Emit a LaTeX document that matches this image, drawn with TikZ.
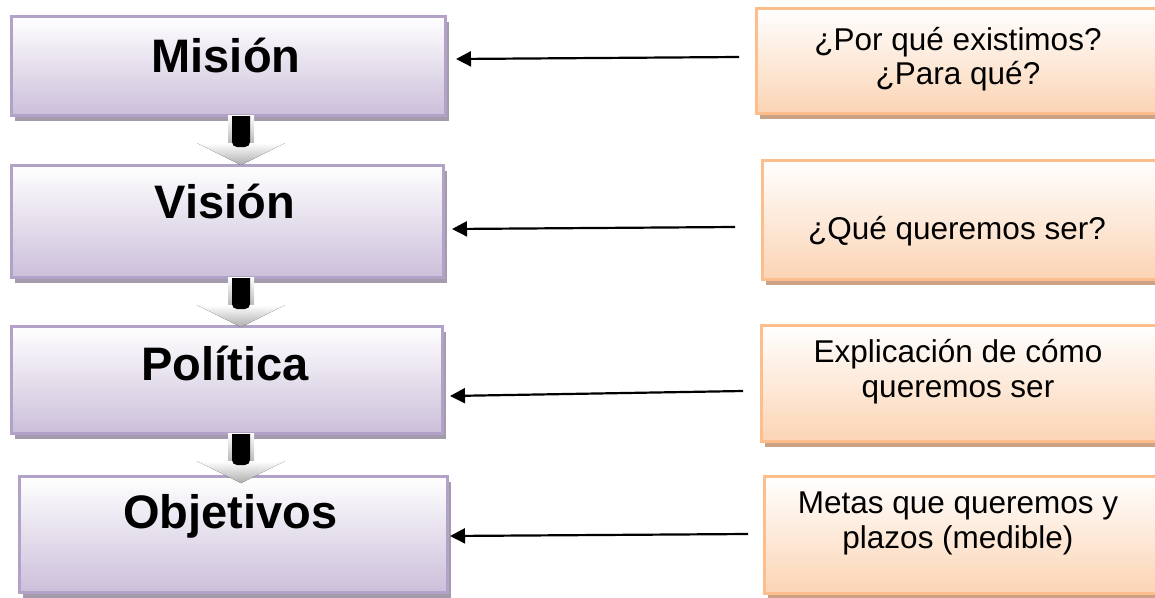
\documentclass[tikz,border=0pt]{standalone}
\usepackage{fontspec}
\setmainfont{Liberation Sans}
\usetikzlibrary{shadows,arrows.meta}
\definecolor{purpB}{HTML}{B3A2C7}
\definecolor{purpF}{HTML}{CBBFDA}
\definecolor{purpS}{HTML}{A49BAC}
\definecolor{orgB}{HTML}{FCBE8C}
\definecolor{orgF}{HTML}{FBD4B4}
\definecolor{orgS}{HTML}{CBA283}
\tikzset{
  lbox/.style={draw=purpB, line width=3pt, top color=white, bottom color=purpF,
    anchor=north west, inner sep=0pt,
    general shadow={shadow xshift=3.5pt, shadow yshift=-6pt, fill=purpS, draw=none}},
  rbox/.style={draw=orgB, line width=3pt, top color=white, bottom color=orgF,
    anchor=north west, inner sep=0pt,
    general shadow={shadow xshift=3.5pt, shadow yshift=-6pt, fill=orgS, draw=none}},
  ltext/.style={anchor=base, inner sep=0pt, font=\fontsize{47}{52}\selectfont\bfseries},
  rtext/.style={anchor=base, inner sep=0pt, font=\fontsize{31.5}{36}\selectfont},
  conn/.style={line width=2.2pt, -{Triangle[length=15pt,width=15pt]}},
  blockdown/.pic={
    \fill[top color=white, bottom color=black!28] (-13,0) rectangle (13,29);
    \fill[top color=white, bottom color=black!32] (-44,28) -- (44,28) -- (0,50) -- cycle;
    \fill[black] (-9,1) [rounded corners=5pt] -- (-9,32) -- (9,32) [sharp corners] -- (9,1) -- cycle;
  }
}
\begin{document}
\begin{tikzpicture}[x=1pt, y=-1pt]
\useasboundingbox (0,0) rectangle (1155,597);
\clip (0,0) rectangle (1155,597);
% left boxes
\node[lbox, minimum width=434pt, minimum height=99pt] (m) at (9.5,14.5) {};
\node[lbox, minimum width=432pt, minimum height=112pt] (v) at (9.5,163.5) {};
\node[lbox, minimum width=431pt, minimum height=107pt] (p) at (9.5,324.5) {};
\node[lbox, minimum width=428pt, minimum height=116pt] (o) at (17.5,474.5) {};
\node[ltext] (tm) at (226,72) {Misión};
\node[ltext] (tv) at (225,218) {Visión};
\node[ltext] (tp) at (225,380) {Política};
\node[ltext] (to) at (230.5,528) {Objetivos};
% right boxes
\node[rbox, minimum width=420pt, minimum height=105pt] (r1) at (754.5,6.5) {};
\node[rbox, minimum width=414pt, minimum height=119pt] (r2) at (760.5,158.5) {};
\node[rbox, minimum width=415pt, minimum height=116pt] (r3) at (759.5,323.5) {};
\node[rbox, minimum width=412pt, minimum height=117pt] (r4) at (762.5,474.5) {};
\node[rtext] (t1a) at (958,50) {¿Por qué existimos?};
\node[rtext] (t1b) at (958,84) {¿Para qué?};
\node[rtext] (t2) at (957,239) {¿Qué queremos ser?};
\node[rtext] (t3a) at (958,362) {Explicación de cómo};
\node[rtext] (t3b) at (958,397) {queremos ser};
\node[rtext] (t4a) at (958,513) {Metas que queremos y};
\node[rtext] (t4b) at (958,548) {plazos (medible)};
% down block arrows
\pic at (241,115) {blockdown};
\pic at (241,277) {blockdown};
\pic at (241,433) {blockdown};
% connectors
\coordinate (a1s) at (739,57);  \coordinate (a1e) at (456,59);
\coordinate (a2s) at (735,227); \coordinate (a2e) at (452,229);
\coordinate (a3s) at (743,391); \coordinate (a3e) at (450,396);
\coordinate (a4s) at (748,534); \coordinate (a4e) at (450,536);
\draw[conn] (a1s) -- (a1e);
\draw[conn] (a2s) -- (a2e);
\draw[conn] (a3s) -- (a3e);
\draw[conn] (a4s) -- (a4e);
\end{tikzpicture}
\end{document}
